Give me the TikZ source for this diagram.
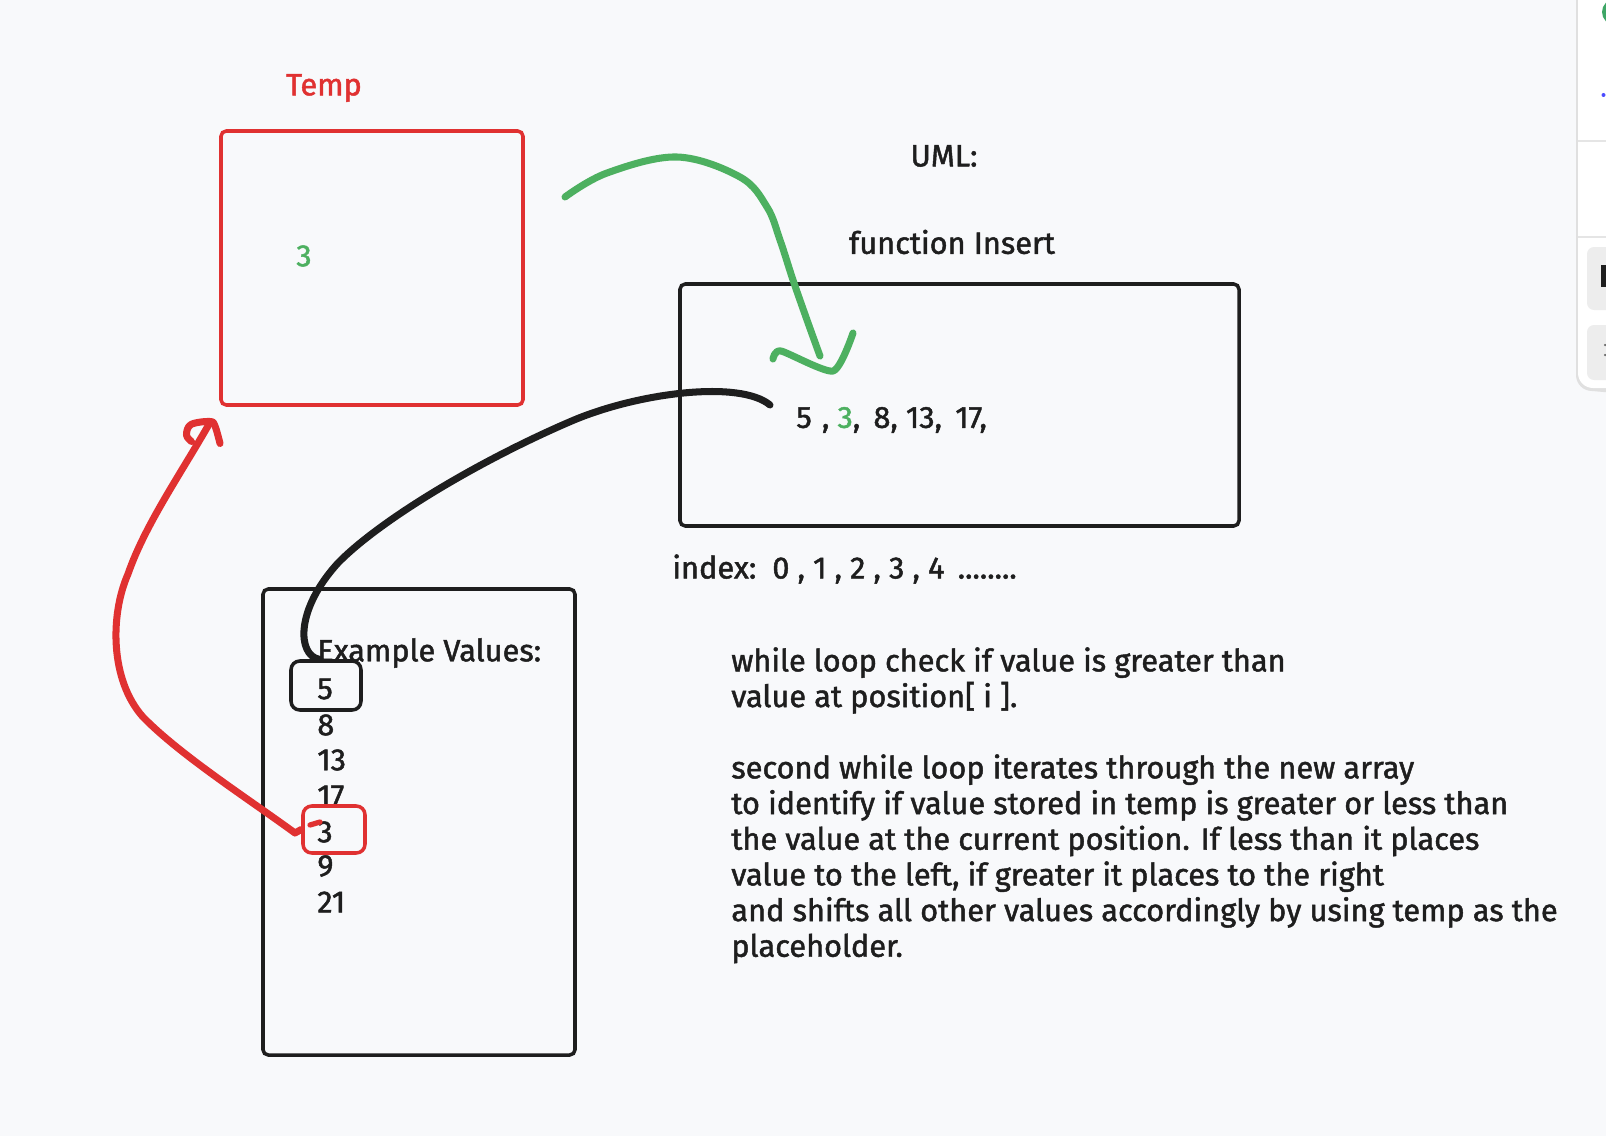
\documentclass[tikz,border=0pt]{standalone}
\usepackage{fontspec}
\setmainfont{Fira Sans}[FakeBold=1.5]
\definecolor{vermelho}{HTML}{E03131}
\definecolor{verde}{HTML}{4DB060}
\definecolor{preto}{HTML}{1E1E1E}
\definecolor{fundo}{HTML}{F8F9FB}
\begin{document}
\begin{tikzpicture}[
	caixa/.style={draw=preto, line width=2pt, rounded corners=3pt},
	caixaVermelha/.style={draw=vermelho, line width=2pt, rounded corners=3pt},
	curva/.style={line width=4pt, line cap=round, line join=round},
	texto/.style={font=\fontsize{17.5}{20.3}\selectfont, text=preto, inner sep=0pt}
	]
	
		\useasboundingbox (0., 0.) rectangle (32.12, -22.72);
		
		\fill[fundo] (0., 0.) rectangle (32.12, -22.72);
		
		% Painel lateral
		
		\fill[black!12] (31.52, 0.2) -- (31.52, -7.5) arc (180:270:0.32) -- (32.3, -7.86) -- (32.3, 0.2) -- cycle;
		
		\fill[white] (31.56, 0.2) -- (31.56, -7.46) arc (180:270:0.3) -- (32.3, -7.76) -- (32.3, 0.2) -- cycle;
		
		\draw[black!10, line width=0.6pt] (31.56, -2.82) -- (32.3, -2.82);
		
		\draw[black!10, line width=0.6pt] (31.56, -4.74) -- (32.3, -4.74);
		
		\fill[verde!80!teal] (32.3, -0.24) circle (0.26);
		
		\fill[blue!70] (32.07, -1.90) circle (0.04);
		
		\fill[black!7, rounded corners=4pt] (31.74, -4.94) rectangle (32.4, -6.20);
		
		\fill[black!7, rounded corners=4pt] (31.74, -6.50) rectangle (32.4, -7.60);
		
		\fill[preto] (32.02, -5.30) rectangle (32.12, -5.74);
		
		\fill[black!60] (32.1, -6.9) circle (0.025);
		
		\fill[black!60] (32.1, -7.1) circle (0.025);
		
		% Temp
		
		\draw node[texto, text=vermelho] (noTemp) at (6.48, -1.76) {Temp} ;
		
		\draw node[caixaVermelha, minimum width=6.04cm, minimum height=5.48cm] (noCaixaTemp) at (7.44, -5.36) {} ;
		
		\draw node[texto, text=verde] (noTresTemp) at (6.08, -5.12) {3} ;
		
		% Insert
		
		\draw node[texto] (noUml) at (18.88, -3.12) {UML:} ;
		
		\draw node[texto] (noFuncao) at (19.04, -4.84) {function Insert} ;
		
		\draw node[caixa, minimum width=11.18cm, minimum height=4.84cm] (noCaixaInsert) at (19.19, -8.10) {} ;
		
		\draw node[texto, anchor=west] (noVetor) at (15.92, -8.40) {5\,\,, \textcolor{verde}{3}, \,8, 13, \,17,} ;
		
		\draw node[texto, anchor=west] (noIndice) at (13.44, -11.38) {index:\, 0 , 1 , 2 , 3 , 4 \,........} ;
		
		% Example Values
		
		\draw node[caixa, minimum width=6.24cm, minimum height=9.32cm] (noCaixaExemplo) at (8.38, -16.44) {} ;
		
		\draw node[texto, anchor=west] (noExemplo) at (6.34, -13.06) {Example Values:} ;
		
		\foreach \valor/\posy [count=\i] in {5/-13.78, 8/-14.50, 13/-15.20, 17/-15.92, 3/-16.64, 9/-17.32, 21/-18.04}
			\draw node[texto, anchor=west] (noValor\i) at (6.34, \posy) {\valor} ;
		
		\draw node[caixa, rounded corners=5pt, minimum width=1.40cm, minimum height=0.98cm] (noCaixa5) at (6.52, -13.71) {} ;
		
		\draw node[caixaVermelha, rounded corners=5pt, minimum width=1.24cm, minimum height=0.94cm] (noCaixa3) at (6.68, -16.59) {} ;
		
		% Texto
		
		\draw node[texto, anchor=north west, align=left] (noTexto) at (14.62, -12.94) {while loop check if value is greater than\\
			value at position[ i ].\\[20.3pt]
			second while loop iterates through the new array\\
			to identify if value stored in temp is greater or less than\\
			the value at the current position. If less than it places\\
			value to the left, if greater it places to the right\\
			and shifts all other values accordingly by using temp as the\\
			placeholder.} ;
		
		% Setas
		
		\coordinate (inicioVerde) at (11.30, -3.94);
		
		\coordinate (pontaVerde) at (16.40, -7.12);
		
		\draw[curva, verde] plot[smooth, tension=0.6] coordinates {(inicioVerde) (12.14, -3.46) (13.54, -3.14) (14.80, -3.54) (15.34, -4.14) (15.60, -4.80) (15.86, -5.60) (16.14, -6.40) (pontaVerde)};
		
		\draw[curva, verde] plot[smooth, tension=0.4] coordinates {(15.46, -7.18) (15.62, -7.02) (16.66, -7.42) (17.06, -6.66)};
		
		\coordinate (pontaPreta) at (15.40, -8.10);
		
		\draw[curva, preto] ([xshift=-4pt]noCaixa5.north) .. controls (5.95, -13.1) and (5.9, -12.2) .. (6.76, -11.26) .. controls (7.6, -10.4) and (9.6, -9.2) .. (11.48, -8.40) .. controls (12.8, -7.85) and (14.8, -7.6) .. (pontaPreta);
		
		\coordinate (pontaVermelha) at (4.20, -8.45);
		
		\draw[curva, vermelho] (noCaixa3.west) -- (5.90, -16.66) .. controls (5.0, -16.0) and (3.6, -15.1) .. (2.86, -14.34) .. controls (2.2, -13.6) and (2.2, -12.3) .. (2.56, -11.48) .. controls (2.9, -10.5) and (3.6, -9.5) .. (pontaVermelha);
		
		\draw[curva, vermelho] plot[smooth, tension=0.6] coordinates {(3.83, -8.83) (3.73, -8.70) (3.82, -8.49) (4.20, -8.43) (4.30, -8.52) (4.40, -8.87)};
		
		\draw[curva, vermelho, line width=3pt] (6.20, -16.50) -- (6.40, -16.44);
		
	\end{tikzpicture}
\end{document}
